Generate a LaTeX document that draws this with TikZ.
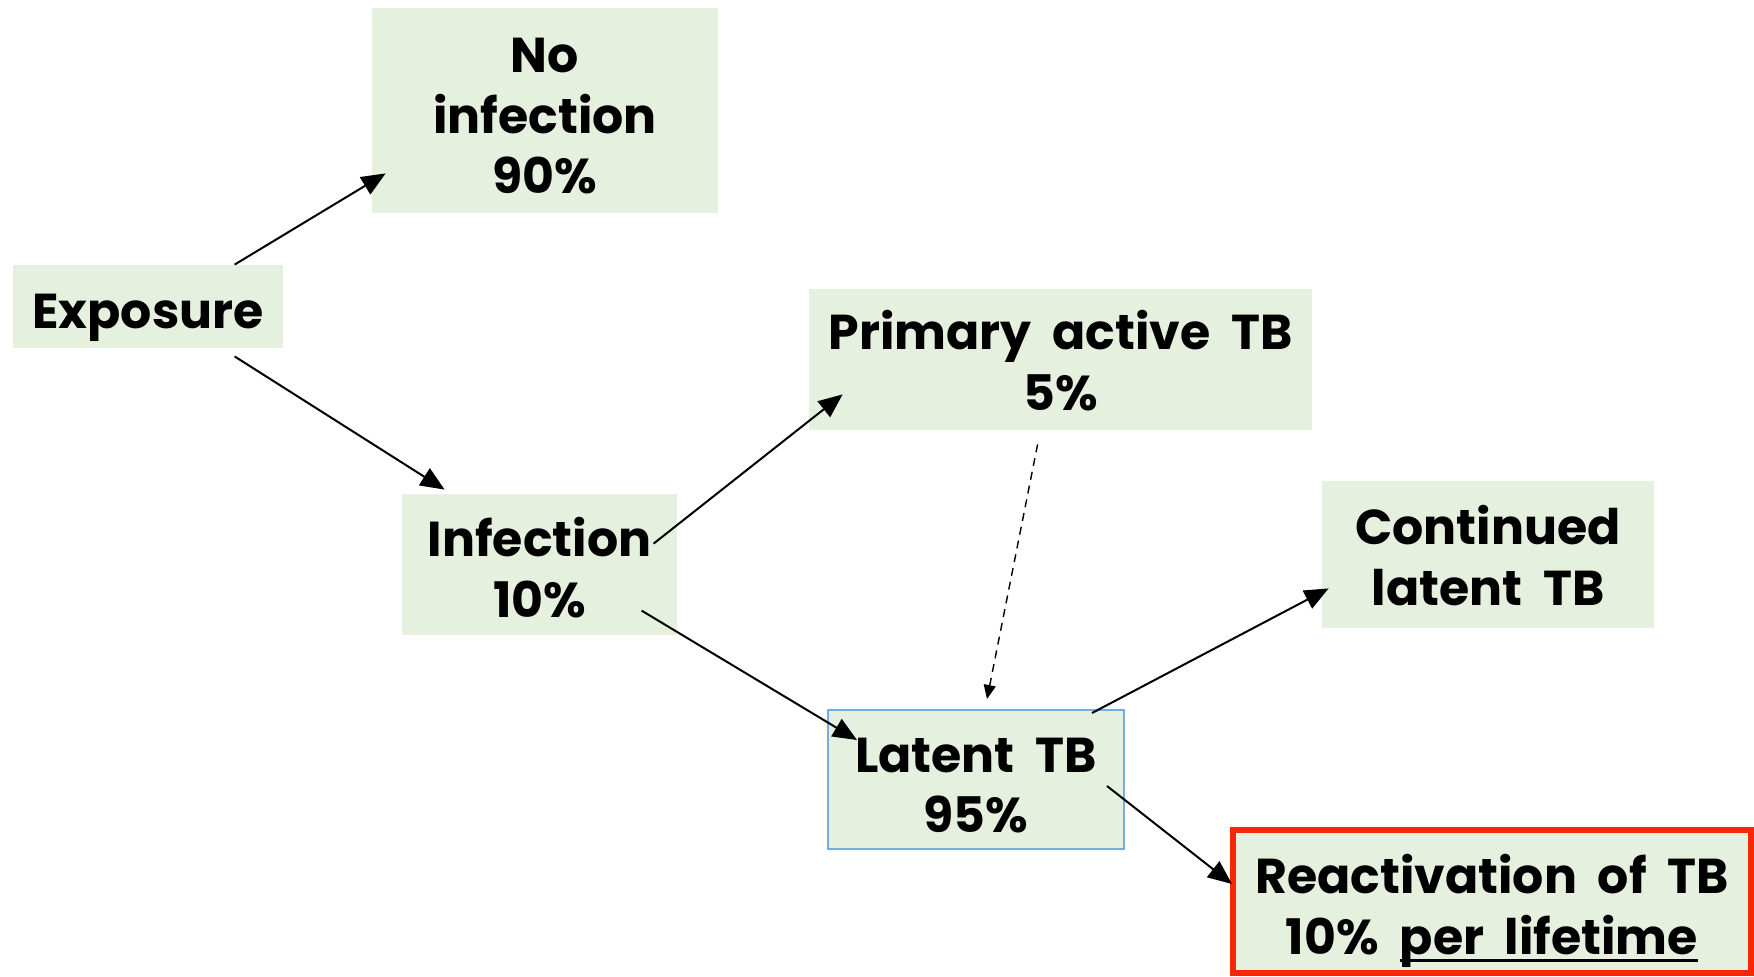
\documentclass[tikz,border=0pt]{standalone}
\usepackage{fontspec}
\setmainfont{Poppins}[WordSpace=2]
\usetikzlibrary{arrows.meta,calc}
\definecolor{boxfill}{RGB}{230,240,223}
\definecolor{latentedge}{RGB}{118,172,222}
\definecolor{alertred}{RGB}{250,38,8}
\tikzset{
  stage/.style={fill=boxfill, inner sep=0pt},
  stagetext/.style={align=center, inner sep=0pt,
    font=\fontsize{24.5}{30.4}\selectfont\bfseries},
  flow/.style={line width=1pt, -{Triangle[length=12pt,width=10pt]}},
  lateflow/.style={line width=0.7pt, dashed, dash pattern=on 4pt off 3pt,
    -{Triangle[length=7pt,width=6pt]}}
}
% heavier underline for emphasised words
\newcommand{\lifeline}[1]{\setbox0\hbox{#1}\rlap{\rule[-3.6pt]{\wd0}{1.2pt}}\box0}
\begin{document}
\begin{tikzpicture}[x=0.5pt,y=-0.5pt]
\path[use as bounding box] (0,0) rectangle (1754,976);

\node[stage, minimum width=173pt, minimum height=102.5pt,
  label={[stagetext, yshift=-2.8pt]center:No\\infection\\90\%}] (noinf) at (545,110.5) {};
\node[stage, minimum width=135pt, minimum height=41.5pt,
  label={[stagetext, yshift=-5.5pt]center:Exposure}] (expo) at (148,306.5) {};
\node[stage, minimum width=251.5pt, minimum height=70.5pt,
  label={[stagetext, yshift=-0.6pt]center:Primary active TB\\5\%}] (prim) at (1060.5,359.5) {};
\node[stage, minimum width=137.5pt, minimum height=70.5pt,
  label={[stagetext, yshift=-1.7pt]center:Infection\\10\%}] (inf) at (539.5,564.5) {};
\node[stage, minimum width=166pt, minimum height=73.5pt,
  label={[stagetext, yshift=-0.6pt]center:Continued\\latent TB}] (cont) at (1488,554.5) {};
\node[stage, draw=latentedge, line width=1pt, minimum width=148pt, minimum height=69.5pt,
  label={[stagetext, yshift=-3pt]center:Latent TB\\95\%}] (lat) at (976,779.5) {};
\node[stage, draw=alertred, line width=3pt, minimum width=259pt, minimum height=71.5pt,
  label={[stagetext, yshift=-4.7pt]center:Reactivation of TB\\10\% \lifeline{per lifetime}}] (react) at (1492,901.5) {};

\draw[flow] ($(expo.north west)+(222,0)$) -- ($(noinf.south west)+(14,-40)$);
\draw[flow] ($(expo.south west)+(222,8)$) -- ($(inf.north west)+(43,-4)$);
\draw[flow] ($(inf.north west)+(252,50)$) -- ($(prim.south west)+(34,-36)$);
\draw[flow] ($(inf.north west)+(240,117)$) -- ($(lat.north west)+(30,31)$);
\draw[lateflow] ($(prim.south west)+(229,14)$) -- ($(lat.north west)+(160,-10)$);
\draw[flow] ($(lat.north west)+(265,4)$) -- ($(cont.south west)+(7,-40)$);
\draw[flow] ($(lat.north west)+(280,77)$) -- ($(react.north west)+(2,57)$);
\end{tikzpicture}
\end{document}
